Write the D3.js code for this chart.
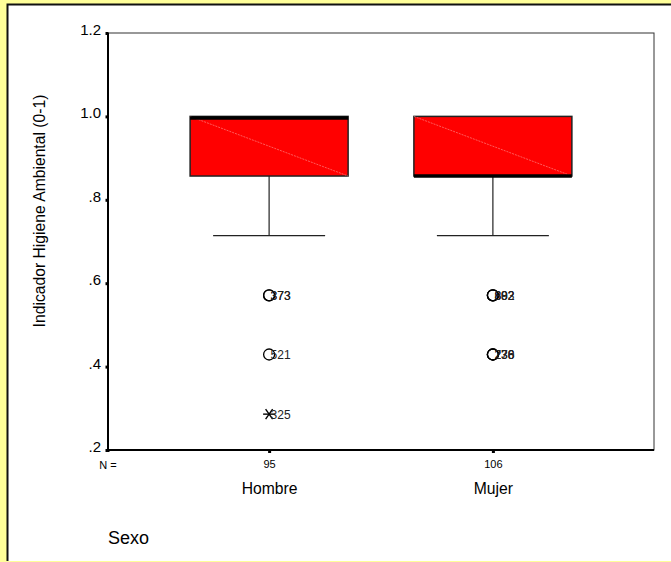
<!DOCTYPE html>
<html>
<head>
<meta charset="utf-8">
<script src="https://cdn.jsdelivr.net/npm/d3@7"></script>
<style>
  html, body { margin: 0; padding: 0; background: #ffff99; }
  svg { display: block; }
</style>
</head>
<body>
<div id="chart"></div>
<script>
// datos del boxplot
const categories = ["Hombre", "Mujer"];
const counts = [95, 106];
const q1 = [0.857, 0.857];
const medians = [1.0, 0.857];
const q3 = [1.0, 1.0];
const whiskerLow = [0.714, 0.714];
const whiskerHigh = [1.0, 1.0];
// atípicos: [categoria, valor, etiqueta, tipo]
const outliers = [
  ["Hombre", 0.571, "373", "o"],
  ["Hombre", 0.571, "373", "o"],
  ["Hombre", 0.429, "521", "o"],
  ["Hombre", 0.286, "325", "*"],
  ["Mujer", 0.571, "602", "o"],
  ["Mujer", 0.571, "882", "o"],
  ["Mujer", 0.571, "893", "o"],
  ["Mujer", 0.429, "230", "o"],
  ["Mujer", 0.429, "238", "o"],
  ["Mujer", 0.429, "776", "o"]
];
const yTicks = [0.2, 0.4, 0.6, 0.8, 1.0, 1.2];

const width = 671, height = 562;
const margin = {top: 33, right: 17, bottom: 112, left: 108};
const font = "Arial, 'Liberation Sans', sans-serif";

const svg = d3.select("#chart").append("svg")
  .attr("width", width).attr("height", height);

// panel blanco con borde
svg.append("rect").attr("x", 8).attr("y", 5).attr("width", width).attr("height", height - 6)
  .attr("fill", "white");
svg.append("path").attr("d", `M7.5,${height - 1}V4.5H${width}`)
  .attr("fill", "none").attr("stroke", "#111").attr("stroke-width", 2);

const x = d3.scalePoint()
  .domain(categories)
  .range([margin.left, width - margin.right])
  .padding(0.72);

const y = d3.scaleLinear()
  .domain([0.2, 1.2])
  .range([height - margin.bottom, margin.top]);

const boxW = 158, capW = 112;

// marco del gráfico
svg.append("rect")
  .attr("x", margin.left).attr("y", margin.top)
  .attr("width", width - margin.right - margin.left)
  .attr("height", y(0.2) - margin.top)
  .attr("fill", "none").attr("stroke", "#333").attr("stroke-width", 1);
svg.append("line")
  .attr("x1", margin.left).attr("x2", width - margin.right)
  .attr("y1", y(0.2)).attr("y2", y(0.2))
  .attr("stroke", "#000").attr("stroke-width", 2);
svg.append("line")
  .attr("x1", margin.left).attr("x2", margin.left)
  .attr("y1", y(0.2)).attr("y2", margin.top)
  .attr("stroke", "#000").attr("stroke-width", 2);

// eje Y
const yAxis = svg.append("g")
  .attr("transform", `translate(${margin.left},0)`)
  .call(d3.axisLeft(y).tickValues(yTicks).tickSize(0).tickPadding(7)
    .tickFormat(d => d3.format(".1f")(d).replace(/^0/, "")));
yAxis.select(".domain").remove();
yAxis.selectAll("text").attr("font-family", font)
  .attr("font-size", 15).attr("fill", "#000").attr("dy", "0.1em");
yAxis.selectAll(".tick").append("rect")
  .attr("x", -2.5).attr("y", -1.5).attr("width", 3).attr("height", 3).attr("fill", "#000");

// eje X
const xAxis = svg.append("g")
  .attr("transform", `translate(0,${y(0.2)})`)
  .call(d3.axisBottom(x).tickSize(0).tickFormat((d, i) => counts[i]).tickPadding(10));
xAxis.select(".domain").remove();
xAxis.selectAll("text").attr("font-family", font)
  .attr("font-size", 11).attr("fill", "#000");
xAxis.selectAll(".tick").append("rect")
  .attr("x", -1.5).attr("y", 0).attr("width", 3).attr("height", 3).attr("fill", "#000");
xAxis.selectAll(".tick").append("text")
  .attr("y", 44)
  .attr("text-anchor", "middle")
  .attr("font-family", font)
  .attr("font-size", 15.7).attr("fill", "#000")
  .text(d => d);
svg.append("rect").attr("x", margin.left - 1.5).attr("y", y(0.2) - 1).attr("width", 3).attr("height", 3).attr("fill", "#000");
svg.append("text")
  .attr("x", margin.left).attr("y", y(0.2) + 19)
  .attr("text-anchor", "middle")
  .attr("font-family", font)
  .attr("font-size", 11).attr("fill", "#000").text("N =");

// cajas
const boxes = svg.append("g").selectAll("g")
  .data(categories)
  .join("g");

boxes.append("line")
  .attr("x1", d => x(d)).attr("x2", d => x(d))
  .attr("y1", (d, i) => y(q1[i])).attr("y2", (d, i) => y(whiskerLow[i]))
  .attr("stroke", "#222").attr("stroke-width", 1.2);
boxes.append("line")
  .attr("x1", d => x(d) - capW / 2).attr("x2", d => x(d) + capW / 2)
  .attr("y1", (d, i) => y(whiskerLow[i])).attr("y2", (d, i) => y(whiskerLow[i]))
  .attr("stroke", "#222").attr("stroke-width", 1.2);
boxes.append("rect")
  .attr("x", d => x(d) - boxW / 2)
  .attr("y", (d, i) => y(q3[i]))
  .attr("width", boxW)
  .attr("height", (d, i) => y(q1[i]) - y(q3[i]))
  .attr("fill", "#ff0000").attr("stroke", "#222").attr("stroke-width", 1.5);
boxes.append("line")
  .attr("x1", d => x(d) - boxW / 2).attr("x2", d => x(d) + boxW / 2)
  .attr("y1", (d, i) => y(q3[i])).attr("y2", (d, i) => y(q1[i]))
  .attr("stroke", "#ff9999").attr("stroke-width", 0.6).attr("stroke-dasharray", "2,1");
boxes.append("line")
  .attr("x1", d => x(d) - boxW / 2).attr("x2", d => x(d) + boxW / 2)
  .attr("y1", (d, i) => y(medians[i]) + (medians[i] >= q3[i] ? 1.5 : 0))
  .attr("y2", (d, i) => y(medians[i]) + (medians[i] >= q3[i] ? 1.5 : 0))
  .attr("stroke", "#000").attr("stroke-width", 3.5);

// atípicos
outliers.forEach(o => {
  const cx = x(o[0]), cy = y(o[1]);
  if (o[3] === "o") {
    svg.append("circle").attr("cx", cx).attr("cy", cy).attr("r", 5.5)
      .attr("fill", "none").attr("stroke", "#000").attr("stroke-width", 1.3);
  } else {
    const g = svg.append("g").attr("transform", `translate(${cx},${cy})`)
      .attr("stroke", "#000").attr("stroke-width", 1.4);
    g.append("line").attr("x1", -6).attr("x2", 6);
    g.append("line").attr("x1", -3.5).attr("x2", 3.5).attr("y1", -5).attr("y2", 5);
    g.append("line").attr("x1", 3.5).attr("x2", -3.5).attr("y1", -5).attr("y2", 5);
  }
  svg.append("text").attr("x", cx + 1.5).attr("y", cy + 4.5)
    .attr("font-family", font).attr("font-size", 12).attr("fill", "#222")
    .text(o[2]);
});

// títulos
svg.append("text")
  .attr("transform", `translate(45,211) rotate(-90)`)
  .attr("text-anchor", "middle")
  .attr("font-family", font).attr("font-size", 15.7).attr("fill", "#000")
  .text("Indicador Higiene Ambiental (0-1)");
svg.append("text")
  .attr("x", 108).attr("y", 544)
  .attr("font-family", font).attr("font-size", 18).attr("fill", "#000")
  .text("Sexo");
</script>
</body>
</html>
